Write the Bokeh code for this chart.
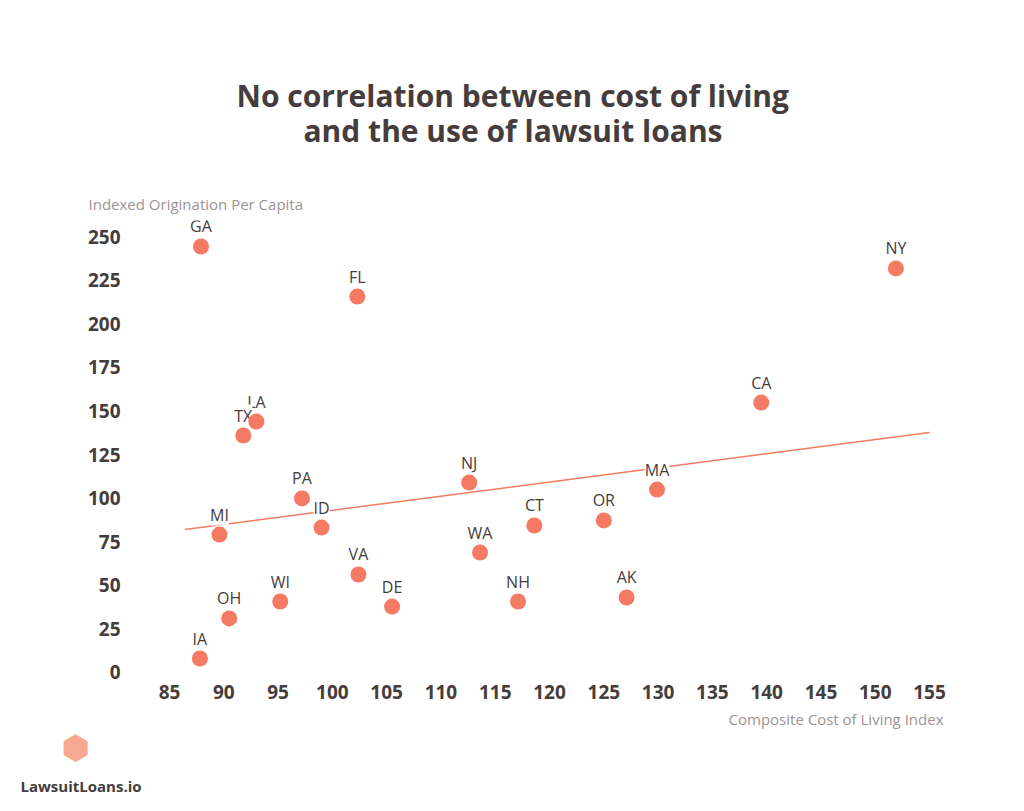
from bokeh.plotting import figure
from bokeh.models import Range1d, FixedTicker, Title, ColumnDataSource
from bokeh.core.properties import value
from bokeh.embed import file_html
from bokeh.resources import INLINE

states = ["GA", "NY", "FL", "CA", "LA", "TX", "NJ", "MA", "PA", "OR", "CT", "ID", "MI",
          "WA", "VA", "AK", "WI", "NH", "DE", "OH", "IA"]
cost_index = [87.9, 151.9, 102.3, 139.5, 93.0, 91.8, 112.6, 129.9, 97.2, 125.0, 118.6, 99.0, 89.6,
              113.6, 102.4, 127.1, 95.2, 117.1, 105.5, 90.5, 87.8]
origination = [244.3, 231.7, 215.6, 154.8, 143.9, 135.9, 108.9, 104.9, 99.8, 87.2, 84.3, 83.1, 79.1,
               68.8, 56.2, 43.0, 40.7, 40.7, 37.8, 31.0, 8.0]
trend_x = [86.4, 155.0]
trend_y = [82.0, 137.6]
x_ticks = list(range(85, 160, 5))
y_ticks = list(range(0, 275, 25))

CORAL = "#f47a63"
DARK = "#453c3c"
GREY = "#9b9595"
FONT = "Open Sans"

p = figure(width=1016, height=811, output_backend="svg", toolbar_location=None,
           x_range=Range1d(83.25, 156.93), y_range=Range1d(-4.6, 259.2),
           min_border_left=150, min_border_right=66, min_border_top=220, min_border_bottom=131)
p.outline_line_color = None
p.grid.visible = False
p.background_fill_color = "white"
p.border_fill_color = "white"

for ax in (p.xaxis[0], p.yaxis[0]):
    ax.axis_line_color = None
    ax.major_tick_line_color = None
    ax.minor_tick_line_color = None
    ax.major_label_text_font = FONT
    ax.major_label_text_font_style = "bold"
    ax.major_label_text_font_size = "19px"
    ax.major_label_text_color = DARK
p.xaxis[0].ticker = FixedTicker(ticks=x_ticks)
p.yaxis[0].ticker = FixedTicker(ticks=y_ticks)
p.xaxis[0].major_label_standoff = -2
p.yaxis[0].major_label_standoff = 24

p.line(trend_x, trend_y, line_color=CORAL, line_width=1.5)

src = ColumnDataSource(dict(x=cost_index, y=origination, s=states))
p.text("x", "y", text="s", source=src, y_offset=-9, text_align="center", text_baseline="bottom",
       text_font=value(FONT), text_font_size="16px", text_color=DARK,
       background_fill_color="white")
p.scatter("x", "y", source=src, size=16, fill_color=CORAL, line_color=None)

# above: y-axis caption, then the two title lines (later = farther from the plot)
p.add_layout(Title(text="Indexed Origination Per Capita", align="left", offset=-62, standoff=14,
                   text_font=FONT, text_font_size="15px", text_font_style="normal",
                   text_color=GREY), "above")
p.add_layout(Title(text="and the use of lawsuit loans", align="left", offset=153, standoff=68,
                   text_font=FONT, text_font_size="30px", text_font_style="bold",
                   text_color=DARK), "above")
p.add_layout(Title(text="No correlation between cost of living", align="left", offset=86,
                   standoff=-84,
                   text_font=FONT, text_font_size="30px", text_font_style="bold",
                   text_color=DARK), "above")

# below: x-axis caption, logo mark, logo text
p.add_layout(Title(text="Composite Cost of Living Index", align="right", offset=7, standoff=10,
                   text_font=FONT, text_font_size="15px", text_font_style="normal",
                   text_color=GREY), "below")
p.add_layout(Title(text="\u2b22", align="left", offset=-89, standoff=-16,
                   text_font="DejaVu Sans", text_font_size="33px", text_font_style="normal",
                   text_color="#f6a890"), "below")
p.add_layout(Title(text="LawsuitLoans.io", align="left", offset=-130, standoff=30,
                   text_font=FONT, text_font_size="15px", text_font_style="bold",
                   text_color=DARK), "below")

open("out.html", "w").write(file_html(p, INLINE))
